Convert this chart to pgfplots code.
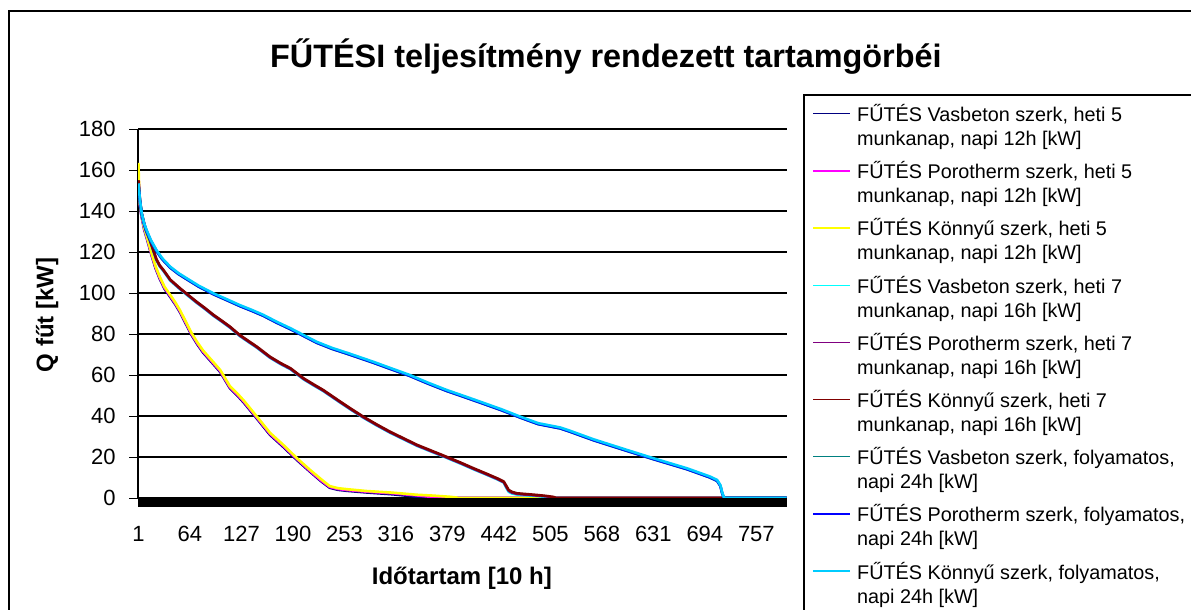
\documentclass[border=0pt]{standalone}
\usepackage{pgfplots}
\pgfplotsset{compat=1.18}
\usepackage{fontspec}
\setmainfont{Liberation Sans}
\definecolor{s1}{HTML}{000080}
\definecolor{s2}{HTML}{FF00FF}
\definecolor{s3}{HTML}{FFFF00}
\definecolor{s4}{HTML}{00FFFF}
\definecolor{s5}{HTML}{800080}
\definecolor{s6}{HTML}{800000}
\definecolor{s7}{HTML}{008080}
\definecolor{s8}{HTML}{0000FF}
\definecolor{s9}{HTML}{00CCFF}
\pgfplotsset{
    curve/.style={line width=1.3pt, mark=none, line join=round},
    legend image code/.code={\draw[line width=0.7pt] (0pt,6.4pt) -- (18.5pt,6.4pt);},
}
\begin{document}
\begin{tikzpicture}
\useasboundingbox (0,0) rectangle (595.5pt,305pt);
% chart frame and legend frame (cut by the page edge, as in the reference)
\draw[line width=1pt] (4.5pt,-5pt) -- (4.5pt,299.5pt) -- (600pt,299.5pt);
\draw[line width=0.7pt] (402pt,-5pt) -- (402pt,257.5pt) -- (600pt,257.5pt);
\begin{axis}[
    at={(69pt,56pt)}, anchor=south west,
    scale only axis, width=324.5pt, height=184.5pt,
    xmin=0.5, xmax=794.5, ymin=0, ymax=180,
    axis x line=bottom, axis y line=left,
    axis line style={-, line width=0.8pt},
    xtick={1,64,...,757},
    minor xtick={1,2,...,794},
    ytick={0,20,...,180},
    tick align=outside,
    major tick length=4.5pt, minor tick length=4.5pt,
    every tick/.style={black, line width=0.4pt},
    ymajorgrids, grid style={black, line width=0.6pt},
    /pgf/number format/assume math mode=true,
    tick label style={font=\fontsize{11}{13}\selectfont, inner sep=0pt},
    yticklabel style={anchor=east, xshift=-6.5pt},
    xticklabel style={anchor=north, yshift=-9.5pt},
    title={FŰTÉSI teljesítmény rendezett tartamgörbéi},
    title style={font=\bfseries\fontsize{16.2}{19}\selectfont, at={(0.721,1.165)}, anchor=center},
    xlabel={Időtartam [10 h]},
    xlabel style={font=\bfseries\fontsize{12}{14}\selectfont, at={(0.499,-0.218)}, anchor=center},
    ylabel={Q fűt [kW]},
    ylabel style={font=\bfseries\fontsize{12}{14}\selectfont, at={(-0.140,0.496)}, anchor=center, rotate=0},
    legend style={draw=none, fill=none, inner sep=0pt, at={(1.0385,1.0785)}, anchor=north west,
        font=\fontsize{9.9}{12}\selectfont, row sep=2.5pt, column sep=1.2pt,
        cells={align=left, anchor=base west}},
    legend cell align=left,
]
% heti 5 munkanap, napi 12h
\addplot[curve, s1] coordinates {(1,156) (2,148) (3,142) (5,137) (8,131) (11,127) (17,118.5) (22,112) (27,107) (33,102) (40,98) (46,94.5) (52,90.5) (59,85) (66,79.5) (73,75) (80,71) (90,66.5) (101,61.5) (113,53.5) (122,50) (130,46.5) (146,38.7) (162,30.8) (178,25) (195,18.5) (211,12.8) (225,8) (235,5) (245,4) (256,3.5) (280,2.7) (312,1.8) (337,0.8) (345,0) (794,0)};
\addplot[curve, s2] coordinates {(1,158) (2,149) (3,142.5) (5,137.5) (8,131.5) (11,127.5) (17,119) (22,112.5) (27,107.5) (33,102.5) (40,98.5) (46,95) (52,91) (59,85.5) (66,80) (73,75.5) (80,71.5) (90,67) (101,62) (113,54) (122,50.5) (130,47) (146,39.2) (162,31.3) (178,25.5) (195,19) (211,13.2) (225,8.4) (235,5.4) (245,4.4) (256,3.9) (280,3.1) (312,2.3) (341,1.3) (358,0.6) (360,0) (794,0)};
\addplot[curve, s3] coordinates {(1,163.5) (2,150) (3,143) (5,138) (8,132) (11,128) (17,119.5) (22,113) (27,108) (33,103) (40,99) (46,95.5) (52,91.5) (59,86) (66,80.5) (73,76) (80,72) (90,67.5) (101,62.5) (113,54.5) (122,51) (130,47.5) (146,39.7) (162,31.8) (178,26) (195,19.4) (211,13.7) (225,9) (235,5.8) (245,4.8) (256,4.3) (280,3.4) (312,2.6) (341,1.6) (360,1.2) (382,0.6) (391,0.2) (392,0) (794,0)};
% heti 7 munkanap, napi 16h
\addplot[curve, s4] coordinates {(1,153) (3,144) (5,138.5) (7,135) (10,130.5) (15,125.5) (20,119.5) (23,116) (27,113) (32,110.5) (40,106) (52,101.8) (62,98.5) (72,95.3) (83,92) (93,88.8) (103,86) (113,83.1) (125,79) (136,76) (146,73.3) (162,68.4) (175,65.3) (187,62.8) (203,57.9) (215,55) (227,52.2) (248,46.5) (260,43.3) (276,39.2) (292,35.5) (309,31.8) (326,28.5) (342,25.4) (360,22.5) (378,19.6) (395,16.8) (411,14) (426,11.5) (440,9.1) (448,7.5) (451,5) (454,3) (458,2.2) (464,1.7) (476,1.3) (488,1) (500,0.5) (504,0) (794,0)};
\addplot[curve, s5] coordinates {(1,154) (3,144.5) (5,138.8) (7,135.3) (10,130.8) (15,125.8) (20,119.8) (23,116.3) (27,113.3) (32,110.8) (40,106.3) (52,102) (62,98.8) (72,95.5) (83,92.2) (93,89) (103,86.2) (113,83.3) (125,79.2) (136,76.2) (146,73.5) (162,68.6) (175,65.5) (187,63) (203,58.1) (215,55.2) (227,52.4) (248,46.7) (260,43.5) (276,39.4) (292,35.7) (309,32) (326,28.7) (342,25.6) (360,22.7) (378,19.8) (395,17) (411,14.2) (426,11.7) (440,9.3) (448,7.7) (451,5.5) (454,3.5) (458,2.6) (464,2) (476,1.6) (488,1.2) (500,0.8) (508,0.3) (510,0) (794,0)};
\addplot[curve, s6] coordinates {(1,155) (3,145) (5,139) (7,135.6) (10,131) (15,126) (20,120) (23,116.5) (27,113.5) (32,111) (40,106.5) (52,102.3) (62,99) (72,95.8) (83,92.5) (93,89.3) (103,86.5) (113,83.6) (125,79.5) (136,76.5) (146,73.8) (162,68.9) (175,65.8) (187,63.3) (203,58.4) (215,55.5) (227,52.7) (248,47) (260,43.8) (276,39.7) (292,36) (309,32.3) (326,29) (342,25.9) (360,23) (378,20.1) (395,17.3) (411,14.5) (426,12) (440,9.6) (448,8) (451,6) (454,3.9) (458,3) (464,2.3) (476,1.9) (488,1.5) (500,1) (509,0.5) (512,0) (794,0)};
% folyamatos, napi 24h
\addplot[curve, s7] coordinates {(1,152.5) (3,144.5) (5,138.5) (8,133.5) (11,130.2) (16,125.5) (23,120.5) (30,116.5) (40,112.3) (50,109.2) (60,106.7) (75,103) (93,99.3) (110,96.3) (125,93.6) (140,91.2) (154,88.8) (170,85.5) (187,82.3) (203,79) (219,75.7) (238,72.7) (258,70.1) (288,66) (310,62.8) (333,59.5) (355,55.8) (378,52.2) (399,49.3) (419,46.5) (445,42.8) (468,39.2) (490,36) (517,33.9) (529,32.3) (558,28.1) (599,22.9) (631,18.9) (672,14) (700,10) (709,8.3) (713,5.8) (715,2.5) (717,0.3) (718,0) (794,0)};
\addplot[curve, s8] coordinates {(1,153) (3,144.6) (5,138.6) (8,133.6) (11,130.3) (16,125.6) (23,120.6) (30,116.6) (40,112.4) (50,109.3) (60,106.8) (75,103.1) (93,99.4) (110,96.4) (125,93.7) (140,91.3) (154,88.9) (170,85.6) (187,82.4) (203,79.1) (219,75.8) (238,72.8) (258,70.2) (288,66.1) (310,62.9) (333,59.6) (355,55.9) (378,52.3) (399,49.4) (419,46.6) (445,42.9) (468,39.3) (490,36.1) (517,34) (529,32.4) (558,28.2) (599,23) (631,19) (672,14.1) (700,10.1) (709,8.4) (713,5.9) (715,2.6) (717,0.4) (718,0) (794,0)};
\addplot[curve, s9] coordinates {(1,153.5) (3,145) (5,139) (8,134) (11,130.7) (16,126) (23,121) (30,117) (40,112.8) (50,109.7) (60,107.2) (75,103.5) (93,99.8) (110,96.8) (125,94.1) (140,91.7) (154,89.3) (170,86) (187,82.8) (203,79.5) (219,76.2) (238,73.2) (258,70.6) (288,66.5) (310,63.3) (333,60) (355,56.3) (378,52.7) (399,49.8) (419,47) (445,43.3) (468,39.7) (490,36.5) (517,34.4) (529,32.8) (558,28.6) (599,23.4) (631,19.4) (672,14.5) (700,10.5) (709,8.8) (713,6.3) (715,3) (717,0.6) (718,0) (794,0)};
\legend{
{FŰTÉS Vasbeton szerk, heti 5\\munkanap, napi 12h [kW]},
{FŰTÉS Porotherm szerk, heti 5\\munkanap, napi 12h [kW]},
{FŰTÉS Könnyű szerk, heti 5\\munkanap, napi 12h [kW]},
{FŰTÉS Vasbeton szerk, heti 7\\munkanap, napi 16h [kW]},
{FŰTÉS Porotherm szerk, heti 7\\munkanap, napi 16h [kW]},
{FŰTÉS Könnyű szerk, heti 7\\munkanap, napi 16h [kW]},
{FŰTÉS Vasbeton szerk, folyamatos,\\napi 24h [kW]},
{FŰTÉS Porotherm szerk, folyamatos,\\napi 24h [kW]},
{FŰTÉS Könnyű szerk, folyamatos,\\napi 24h [kW]}}
\end{axis}
\end{tikzpicture}
\end{document}
